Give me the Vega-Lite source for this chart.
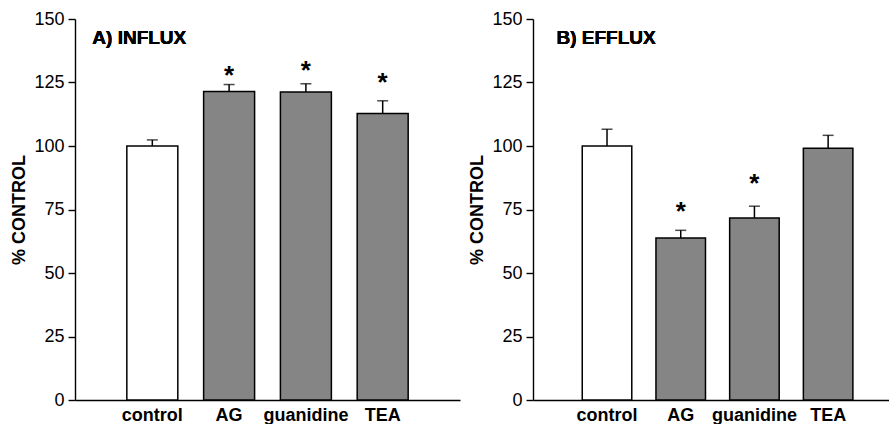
{
  "$schema": "https://vega.github.io/schema/vega-lite/v6.json",
  "padding": {"left": 10, "top": 10, "right": 0, "bottom": 0},
  "background": "white",
  "spacing": 8,
  "config": {
    "font": "Liberation Sans",
    "view": {"stroke": null},
    "axis": {"domainColor": "black", "domainWidth": 1.4, "tickColor": "black", "tickWidth": 1.4, "labelColor": "black", "titleColor": "black", "grid": false}
  },
  "datasets": {
    "influx": [
      {"treatment": "control", "value": 100, "err": 102.4, "star": null},
      {"treatment": "AG", "value": 121.5, "err": 124.2, "star": 124.3},
      {"treatment": "guanidine", "value": 121.3, "err": 124.5, "star": 126.4},
      {"treatment": "TEA", "value": 112.8, "err": 117.8, "star": 121.7}
    ],
    "efflux": [
      {"treatment": "control", "value": 100, "err": 106.6, "star": null},
      {"treatment": "AG", "value": 63.8, "err": 66.8, "star": 70.9},
      {"treatment": "guanidine", "value": 71.7, "err": 76.3, "star": 82.0},
      {"treatment": "TEA", "value": 99.1, "err": 104.2, "star": null}
    ]
  },
  "hconcat": [
    {
      "width": 385,
      "height": 381,
      "data": {"name": "influx"},
      "encoding": {
        "x": {"field": "treatment", "type": "nominal", "sort": ["control", "AG", "guanidine", "TEA"],
              "scale": {"paddingInner": 0.336, "paddingOuter": 0.675},
              "axis": {"title": null, "labelAngle": 0, "ticks": false, "tickSize": 0, "labelFontSize": 18, "labelFontWeight": "bold", "labelPadding": 6}},
        "y": {"type": "quantitative", "scale": {"domain": [0, 150], "nice": false},
              "axis": {"title": "% CONTROL", "values": [0, 25, 50, 75, 100, 125, 150], "tickSize": 7, "labelPadding": 4, "labelFontSize": 18, "titleFontSize": 18, "titleFontWeight": "bold", "titlePadding": 5}}
      },
      "layer": [
        {"mark": {"type": "rule", "stroke": "black", "strokeWidth": 1.5},
         "encoding": {"y": {"field": "value", "type": "quantitative"}, "y2": {"field": "err"}}},
        {"mark": {"type": "tick", "orient": "horizontal", "size": 11, "thickness": 1.5, "color": "black"},
         "encoding": {"y": {"field": "err", "type": "quantitative"}}},
        {"mark": {"type": "bar", "stroke": "black", "strokeWidth": 1.5},
         "encoding": {"y": {"field": "value", "type": "quantitative"},
                      "fill": {"condition": {"test": "datum.treatment === 'control'", "value": "white"}, "value": "#858585"}}},
        {"mark": {"type": "text", "text": "*", "fontSize": 26, "fontWeight": "bold", "baseline": "alphabetic", "color": "black"},
         "encoding": {"y": {"field": "star", "type": "quantitative"}}},
        {"mark": {"type": "text", "text": "A) INFLUX", "fontSize": 19, "fontWeight": "bold", "align": "left", "baseline": "alphabetic", "dx": -60, "color": "black"},
         "encoding": {"x": {"datum": "control"}, "y": {"datum": 140}}}
      ]
    },
    {
      "width": 356,
      "height": 381,
      "data": {"name": "efflux"},
      "encoding": {
        "x": {"field": "treatment", "type": "nominal", "sort": ["control", "AG", "guanidine", "TEA"],
              "scale": {"paddingInner": 0.328, "paddingOuter": 0.579, "align": 0.577},
              "axis": {"title": null, "labelAngle": 0, "ticks": false, "tickSize": 0, "labelFontSize": 18, "labelFontWeight": "bold", "labelPadding": 6}},
        "y": {"type": "quantitative", "scale": {"domain": [0, 150], "nice": false},
              "axis": {"title": "% CONTROL", "values": [0, 25, 50, 75, 100, 125, 150], "tickSize": 7, "labelPadding": 4, "labelFontSize": 18, "titleFontSize": 18, "titleFontWeight": "bold", "titlePadding": 5}}
      },
      "layer": [
        {"mark": {"type": "rule", "stroke": "black", "strokeWidth": 1.5},
         "encoding": {"y": {"field": "value", "type": "quantitative"}, "y2": {"field": "err"}}},
        {"mark": {"type": "tick", "orient": "horizontal", "size": 11, "thickness": 1.5, "color": "black"},
         "encoding": {"y": {"field": "err", "type": "quantitative"}}},
        {"mark": {"type": "bar", "stroke": "black", "strokeWidth": 1.5},
         "encoding": {"y": {"field": "value", "type": "quantitative"},
                      "fill": {"condition": {"test": "datum.treatment === 'control'", "value": "white"}, "value": "#858585"}}},
        {"mark": {"type": "text", "text": "*", "fontSize": 26, "fontWeight": "bold", "baseline": "alphabetic", "color": "black"},
         "encoding": {"y": {"field": "star", "type": "quantitative"}}},
        {"mark": {"type": "text", "text": "B) EFFLUX", "fontSize": 19, "fontWeight": "bold", "align": "left", "baseline": "alphabetic", "dx": -50.5, "color": "black"},
         "encoding": {"x": {"datum": "control"}, "y": {"datum": 140}}}
      ]
    }
  ]
}
